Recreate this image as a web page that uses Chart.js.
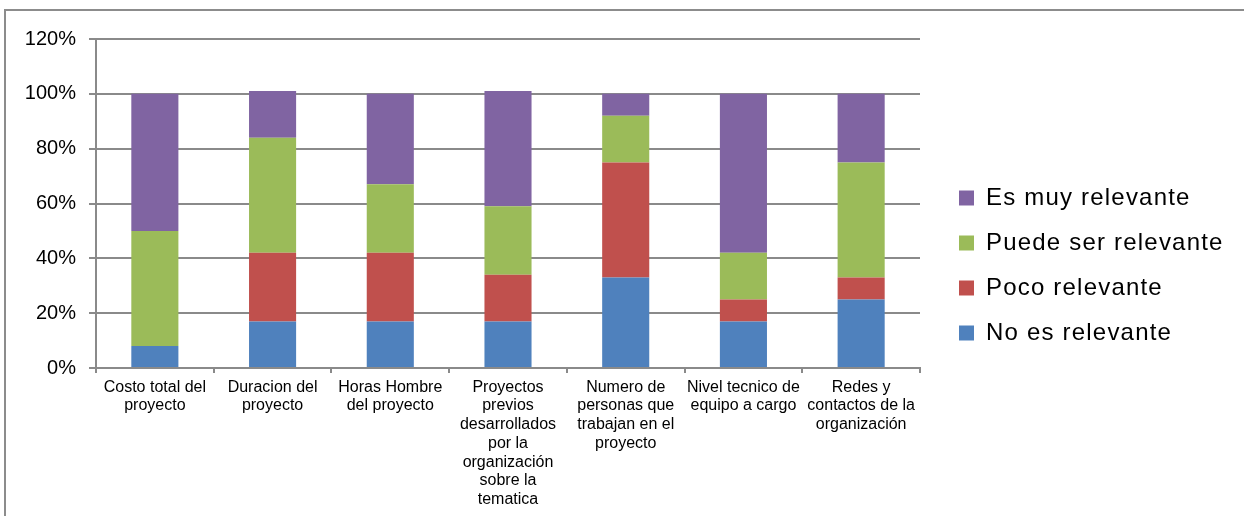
<!DOCTYPE html>
<html>
<head>
<meta charset="utf-8">
<script src="https://cdn.jsdelivr.net/npm/chart.js@4/dist/chart.umd.min.js"></script>
<style>
  html, body { margin: 0; padding: 0; background: #fff; }
  #wrap { position: relative; width: 1244px; height: 516px; overflow: hidden; }
  #frame { position: absolute; left: 4px; top: 9px; width: 1400px; height: 700px;
           border-left: 2px solid #8c8c8c; border-top: 2px solid #8c8c8c; }
  #chart { position: absolute; left: 0; top: 0; }
</style>
</head>
<body>
<div id="wrap">
  <div id="frame"></div>
  <canvas id="chart" width="1244" height="516"></canvas>
</div>
<script>
// Aspects evaluated (multi-line labels under each bar)
const categories = [
  ['Costo total del', 'proyecto'],
  ['Duracion del', 'proyecto'],
  ['Horas Hombre', 'del proyecto'],
  ['Proyectos', 'previos', 'desarrollados', 'por la', 'organización', 'sobre la', 'tematica'],
  ['Numero de', 'personas que', 'trabajan en el', 'proyecto'],
  ['Nivel tecnico de', 'equipo a cargo'],
  ['Redes y', 'contactos de la', 'organización']
];

// Share of answers per level of relevance (%)
const noEsRelevante     = [8, 17, 17, 17, 33, 17, 25];
const pocoRelevante     = [0, 25, 25, 17, 42,  8,  8];
const puedeSerRelevante = [42, 42, 25, 25, 17, 17, 42];
const esMuyRelevante    = [50, 17, 33, 42,  8, 58, 25];

const seriesNames = ['No es relevante', 'Poco relevante', 'Puede ser relevante', 'Es muy relevante'];
const seriesColors = ['#4F81BD', '#C0504D', '#9BBB59', '#8064A2'];

// Y axis ticks (%)
const yTicks = [0, 20, 40, 60, 80, 100, 120];

const lineGray = '#8a8a8a';
const fontFamily = '"Liberation Sans", Arial, Helvetica, sans-serif';
const legendWidth = 300;

Chart.defaults.font.family = fontFamily;
Chart.defaults.color = '#000';

// Legend: fixed box width and slightly wider tracking for its text
const legendStyle = {
  id: 'legendStyle',
  beforeUpdate(chart) {
    const lg = chart.legend;
    if (!lg || lg._styled) return;
    const baseFit = lg.fit;
    lg.fit = function (...args) {
      baseFit.apply(this, args);
      this.width = legendWidth;
    };
    const baseDraw = lg.draw;
    lg.draw = function (...args) {
      const c = this.ctx;
      const prev = c.letterSpacing;
      c.letterSpacing = '1.2px';
      baseDraw.apply(this, args);
      c.letterSpacing = prev || '0px';
    };
    lg._styled = true;
  }
};

// Empty spacer axes: room above the plot and between plot and legend
const spacer = size => ({
  type: 'linear',
  display: true,
  grid: { display: false, drawTicks: false },
  border: { display: false },
  ticks: { display: false },
  afterFit(s) {
    if (s.isHorizontal()) s.height = size; else s.width = size;
  }
});

const values = [noEsRelevante, pocoRelevante, puedeSerRelevante, esMuyRelevante];

new Chart(document.getElementById('chart'), {
  type: 'bar',
  data: {
    labels: categories,
    datasets: values.map((v, i) => ({
      label: seriesNames[i],
      data: v,
      backgroundColor: seriesColors[i],
      borderWidth: 0,
      categoryPercentage: 1,
      barPercentage: 0.4
    }))
  },
  options: {
    responsive: false,
    animation: false,
    events: [],
    layout: { padding: { left: 0, top: 15, right: 6, bottom: 0 } },
    plugins: {
      tooltip: { enabled: false },
      legend: {
        position: 'right',
        reverse: true,
        align: 'center',
        labels: {
          boxWidth: 15,
          boxHeight: 15,
          padding: 21,
          color: '#000',
          font: { size: 24, family: fontFamily }
        }
      }
    },
    scales: {
      x: {
        stacked: true,
        offset: true,
        afterFit(s) { s.height = 148; },
        grid: {
          display: true,
          drawOnChartArea: false,
          drawTicks: true,
          tickLength: 5,
          color: lineGray,
          lineWidth: 2
        },
        border: { display: true, color: lineGray, width: 2 },
        ticks: {
          autoSkip: false,
          maxRotation: 0,
          minRotation: 0,
          padding: 5,
          color: '#000',
          font: { size: 16, family: fontFamily, lineHeight: 1.17 }
        }
      },
      y: {
        stacked: true,
        min: yTicks[0],
        max: yTicks[yTicks.length - 1],
        afterFit(s) { s.width = 96; },
        afterBuildTicks(s) { s.ticks = yTicks.map(v => ({ value: v })); },
        grid: {
          color: lineGray,
          lineWidth: 2,
          tickLength: 7,
          drawTicks: true
        },
        border: { display: true, color: lineGray, width: 2 },
        ticks: {
          padding: 13,
          color: '#000',
          font: { size: 20, family: fontFamily },
          callback: v => v + '%'
        }
      },
      headroom: Object.assign(spacer(24), { position: 'top', axis: 'x' }),
      gap: Object.assign(spacer(18), { position: 'right', axis: 'y' })
    }
  },
  plugins: [legendStyle]
});
</script>
</body>
</html>
